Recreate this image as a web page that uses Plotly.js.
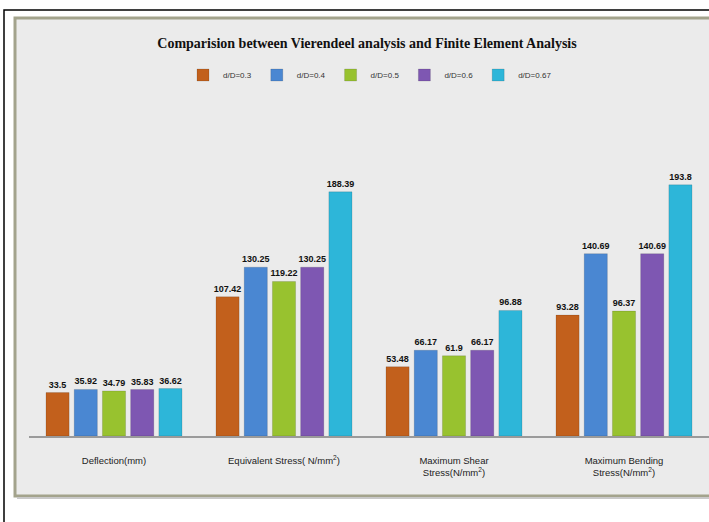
<!DOCTYPE html>
<html>
<head>
<meta charset="utf-8">
<script src="https://cdn.plot.ly/plotly-3.0.1.min.js"></script>
<style>
html,body{margin:0;padding:0;background:#ffffff;}
#chart{width:709px;height:522px;}
</style>
</head>
<body>
<div id="chart"></div>
<script>
const categories = [
  "Deflection(mm)",
  "Equivalent Stress( N/mm<sup>2</sup>)",
  "Maximum Shear<br>Stress(N/mm<sup>2</sup>)",
  "Maximum Bending<br>Stress(N/mm<sup>2</sup>)"
];
const seriesNames = ["d/D=0.3", "d/D=0.4", "d/D=0.5", "d/D=0.6", "d/D=0.67"];
const dD03 = [33.5, 107.42, 53.48, 93.28];
const dD04 = [35.92, 130.25, 66.17, 140.69];
const dD05 = [34.79, 119.22, 61.9, 96.37];
const dD06 = [35.83, 130.25, 66.17, 140.69];
const dD067 = [36.62, 188.39, 96.88, 193.8];
const seriesValues = [dD03, dD04, dD05, dD06, dD067];
const colors = ["#c2601c", "#4a87d2", "#98c22f", "#7e57b2", "#2db6d9"];

const W = 709, H = 522;
const px = x => x / W;
const py = y => 1 - y / H;

const traces = seriesValues.map((vals, i) => ({
  type: "bar",
  name: seriesNames[i],
  x: categories,
  y: vals,
  marker: {color: colors[i], line: {color: "rgba(0,0,0,0.25)", width: 0.5}},
  text: vals.map(v => String(v)),
  textposition: "outside",
  cliponaxis: false,
  textfont: {family: "Liberation Sans, Arial, sans-serif", size: 9, color: "#111111", weight: "bold"},
  hoverinfo: "x+y+name"
}));

const layout = {
  width: W, height: H,
  margin: {l: 0, r: 0, t: 0, b: 0, pad: 0},
  paper_bgcolor: "#ffffff",
  plot_bgcolor: "rgba(0,0,0,0)",
  barmode: "group",
  bargap: 0.17,
  bargroupgap: 0.18,
  uniformtext: {mode: "show", minsize: 9},
  showlegend: true,
  title: {
    text: "<b>Comparision between Vierendeel analysis and Finite Element Analysis</b>",
    font: {family: "Liberation Serif, Times New Roman, serif", size: 14, color: "#111111"},
    x: px(367), xanchor: "center", xref: "paper",
    y: py(43), yanchor: "middle", yref: "paper"
  },
  legend: {
    orientation: "h",
    x: px(370), xanchor: "center",
    y: py(75), yanchor: "middle",
    bgcolor: "rgba(0,0,0,0)",
    font: {family: "Liberation Sans, Arial, sans-serif", size: 8, color: "#333333"},
    itemwidth: 30,
    traceorder: "normal"
  },
  xaxis: {
    domain: [px(29), 1],
    showgrid: false,
    showline: true,
    linecolor: "#9a9a9a",
    linewidth: 1.5,
    ticks: "",
    ticklabelstandoff: 15,
    tickfont: {family: "Liberation Sans, Arial, sans-serif", size: 9.5, color: "#222222"},
    fixedrange: true
  },
  yaxis: {
    domain: [py(436), py(112)],
    range: [0, 250],
    visible: false,
    showgrid: false,
    zeroline: false,
    fixedrange: true
  },
  shapes: [
    {type: "rect", xref: "paper", yref: "paper", x0: px(4), x1: px(730), y0: py(540), y1: py(10),
     line: {color: "#000000", width: 1.5}, fillcolor: "rgba(0,0,0,0)", layer: "below"},
    {type: "rect", xref: "paper", yref: "paper", x0: px(15), x1: px(730), y0: py(496), y1: py(18),
     line: {color: "#a3a38c", width: 3}, fillcolor: "#ebebeb", layer: "below"},
    {type: "line", xref: "paper", yref: "paper", x0: px(17), x1: px(730), y0: py(498), y1: py(498),
     line: {color: "#c9c9c9", width: 2}, layer: "below"}
  ]
};

Plotly.newPlot("chart", traces, layout, {displayModeBar: false, staticPlot: true});
</script>
</body>
</html>
